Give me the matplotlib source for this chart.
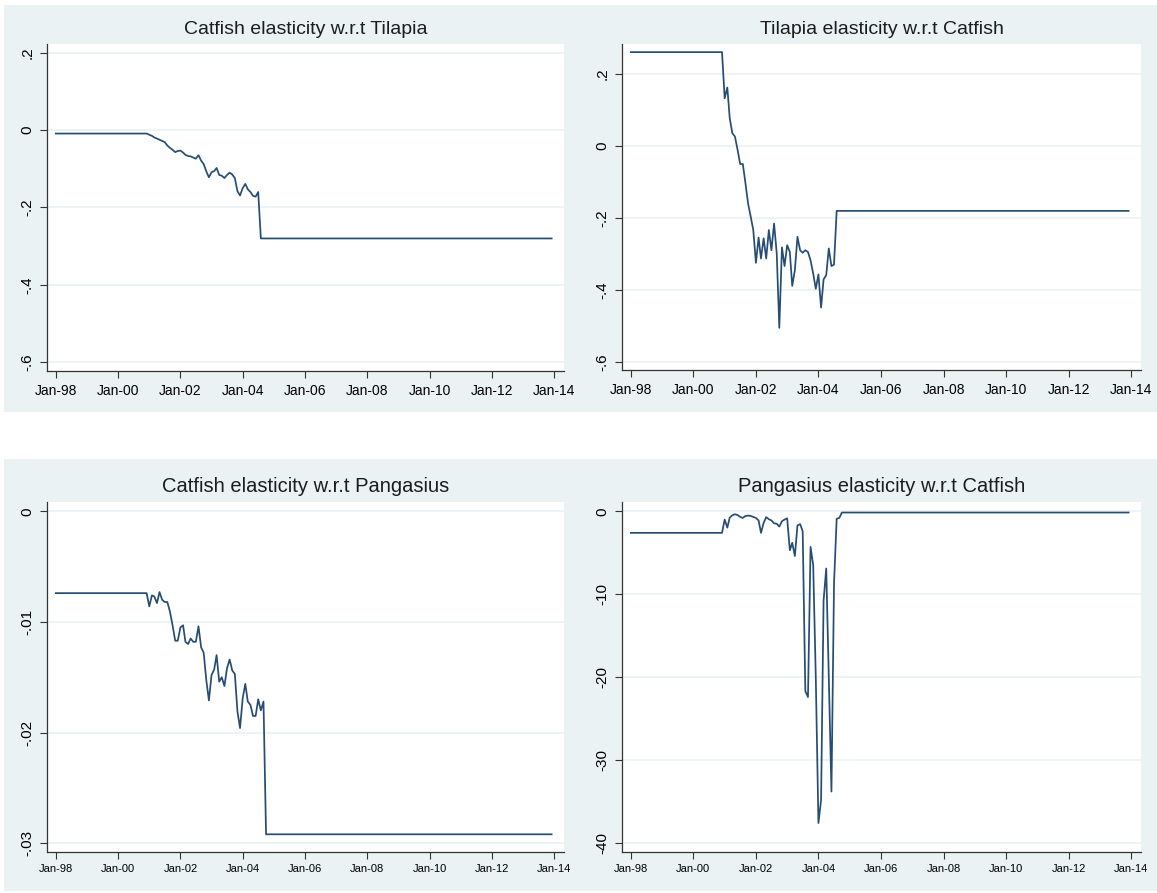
import matplotlib
matplotlib.use("Agg")
import matplotlib.pyplot as plt
from matplotlib.patches import Rectangle
import pandas as pd

plt.rcParams['font.family'] = ['Liberation Sans', 'DejaVu Sans']

# monthly data, Jan-98 .. Dec-13. flat before Jan-01, one value per month after that
months = pd.date_range('1998-01-01', '2013-12-01', freq='MS')
flat_end = 35          # Dec-00, last month of the flat start
first_var = 36         # Jan-01

titles = ['Catfish elasticity w.r.t Tilapia', 'Tilapia elasticity w.r.t Catfish',
          'Catfish elasticity w.r.t Pangasius', 'Pangasius elasticity w.r.t Catfish']

# catfish wrt tilapia
tl_start = -0.009
tl_vals = [-0.012, -0.015, -0.019, -0.022, -0.025, -0.028, -0.031, -0.040, -0.046, -0.051,
           -0.057, -0.054, -0.053, -0.058, -0.064, -0.067, -0.068, -0.071, -0.074, -0.065,
           -0.079, -0.088, -0.107, -0.122, -0.109, -0.106, -0.098, -0.116, -0.118, -0.124,
           -0.116, -0.110, -0.115, -0.124, -0.158, -0.169, -0.150, -0.139, -0.153, -0.160,
           -0.170, -0.172, -0.160, -0.280]

# tilapia wrt catfish
tr_start = 0.26
tr_vals = [0.132, 0.162, 0.077, 0.035, 0.026, -0.011, -0.050, -0.050, -0.104, -0.159,
           -0.196, -0.233, -0.324, -0.254, -0.312, -0.256, -0.312, -0.233, -0.289, -0.215,
           -0.298, -0.504, -0.281, -0.333, -0.275, -0.294, -0.388, -0.344, -0.252, -0.289,
           -0.296, -0.289, -0.294, -0.317, -0.354, -0.396, -0.356, -0.448, -0.370, -0.358,
           -0.284, -0.333, -0.329, -0.180]

# catfish wrt pangasius
bl_start = -0.0074
bl_vals = [-0.0086, -0.0076, -0.0077, -0.0083, -0.0073, -0.0080, -0.0082, -0.0082, -0.0091, -0.0103,
           -0.0117, -0.0117, -0.0105, -0.0103, -0.0118, -0.0120, -0.0115, -0.0118, -0.0118, -0.0104,
           -0.0123, -0.0128, -0.0153, -0.0171, -0.0148, -0.0143, -0.0130, -0.0154, -0.0150, -0.0158,
           -0.0142, -0.0134, -0.0144, -0.0147, -0.0181, -0.0196, -0.0169, -0.0156, -0.0172, -0.0175,
           -0.0185, -0.0185, -0.0170, -0.0180, -0.0172, -0.0292]

# pangasius wrt catfish
br_start = -2.6
br_vals = [-1.0, -1.97, -0.76, -0.48, -0.36, -0.45, -0.68, -0.80, -0.56, -0.52,
           -0.56, -0.68, -0.80, -1.1, -2.6, -1.4, -0.7, -0.96, -1.1, -1.45,
           -1.5, -1.85, -1.2, -1.0, -0.85, -4.7, -3.8, -5.4, -1.7, -1.55,
           -2.4, -21.7, -22.4, -4.3, -6.5, -20.0, -37.6, -34.8, -10.8, -6.9,
           -20.0, -33.8, -8.7, -0.9, -0.8, -0.15]

xtick_dates = pd.date_range('1998-01-01', '2014-01-01', freq='24MS')
xtick_labels = ['Jan-98', 'Jan-00', 'Jan-02', 'Jan-04', 'Jan-06', 'Jan-08', 'Jan-10', 'Jan-12', 'Jan-14']

ticks_top = [0.2, 0, -0.2, -0.4, -0.6]
labels_top = ['.2', '0', '-.2', '-.4', '-.6']
ticks_bl = [0, -0.01, -0.02, -0.03]
labels_bl = ['0', '-.01', '-.02', '-.03']
ticks_br = [0, -10, -20, -30, -40]
labels_br = ['0', '-10', '-20', '-30', '-40']

W, H = 1157, 893
fig = plt.figure(figsize=(W / 100, H / 100), dpi=100)
fig.patch.set_facecolor('white')

def frac(x0, y0, x1, y1):
    return [x0 / W, 1 - y1 / H, (x1 - x0) / W, (y1 - y0) / H]

def series(start, vals):
    idx = [0, flat_end] + list(range(first_var, first_var + len(vals))) + [len(months) - 1]
    y = [start, start] + vals + [vals[-1]]
    return months[idx], y

bg = '#eaf2f3'
line_col = '#264d73'

panels = [
    # background box, axes box, title y, data, ylim, ticks, labels, x label size, title size
    ((4, 5, 579, 412), (47, 44, 564, 371), 30, series(tl_start, tl_vals), (-0.6225, 0.2224), ticks_top, labels_top, 10, 14),
    ((578, 5, 1157, 412), (622, 44, 1141, 370), 30, series(tr_start, tr_vals), (-0.621, 0.2825), ticks_top, labels_top, 10, 14),
    ((4, 459, 579, 891), (47, 502, 564, 852), 487, series(bl_start, bl_vals), (-0.0308, 0.00084), ticks_bl, labels_bl, 8, 14.5),
    ((578, 459, 1157, 891), (622, 502, 1141, 852), 487, series(br_start, br_vals), (-41.09, 1.12), ticks_br, labels_br, 8, 14.5),
]

for i, (bgbox, axbox, ty, (xd, yd), ylim, yt, ylab, xfs, tfs) in enumerate(panels):
    x0, y0, x1, y1 = bgbox
    fig.patches.append(Rectangle((x0 / W, 1 - y1 / H), (x1 - x0) / W, (y1 - y0) / H,
                                 transform=fig.transFigure, facecolor=bg, edgecolor='none', zorder=-5))
    ax = fig.add_axes(frac(*axbox))
    ax.set_zorder(2)
    ax.set_facecolor('white')
    ax.plot(xd, yd, color=line_col, lw=1.25)
    ax.set_xlim(pd.Timestamp('1997-09-20'), pd.Timestamp('2014-04-25'))
    ax.set_ylim(ylim)
    ax.set_yticks(yt)
    ax.set_yticklabels(ylab, rotation=90, va='center', fontsize=11)
    ax.set_xticks(xtick_dates)
    ax.set_xticklabels(xtick_labels, fontsize=xfs)
    ax.tick_params(direction='out', length=5, width=0.8, color='#333333', pad=4)
    ax.grid(axis='y', color=bg, lw=1.2)
    ax.set_axisbelow(True)
    for s in ['top', 'right']:
        ax.spines[s].set_visible(False)
    for s in ['left', 'bottom']:
        ax.spines[s].set_color('#333333')
        ax.spines[s].set_linewidth(0.9)
    cx = (axbox[0] + axbox[2]) / 2
    fig.text(cx / W, 1 - ty / H, titles[i], ha='center', va='center', fontsize=tfs, color='#1c1c1c', zorder=3)

plt.savefig('out.png', dpi=100, facecolor='white')
